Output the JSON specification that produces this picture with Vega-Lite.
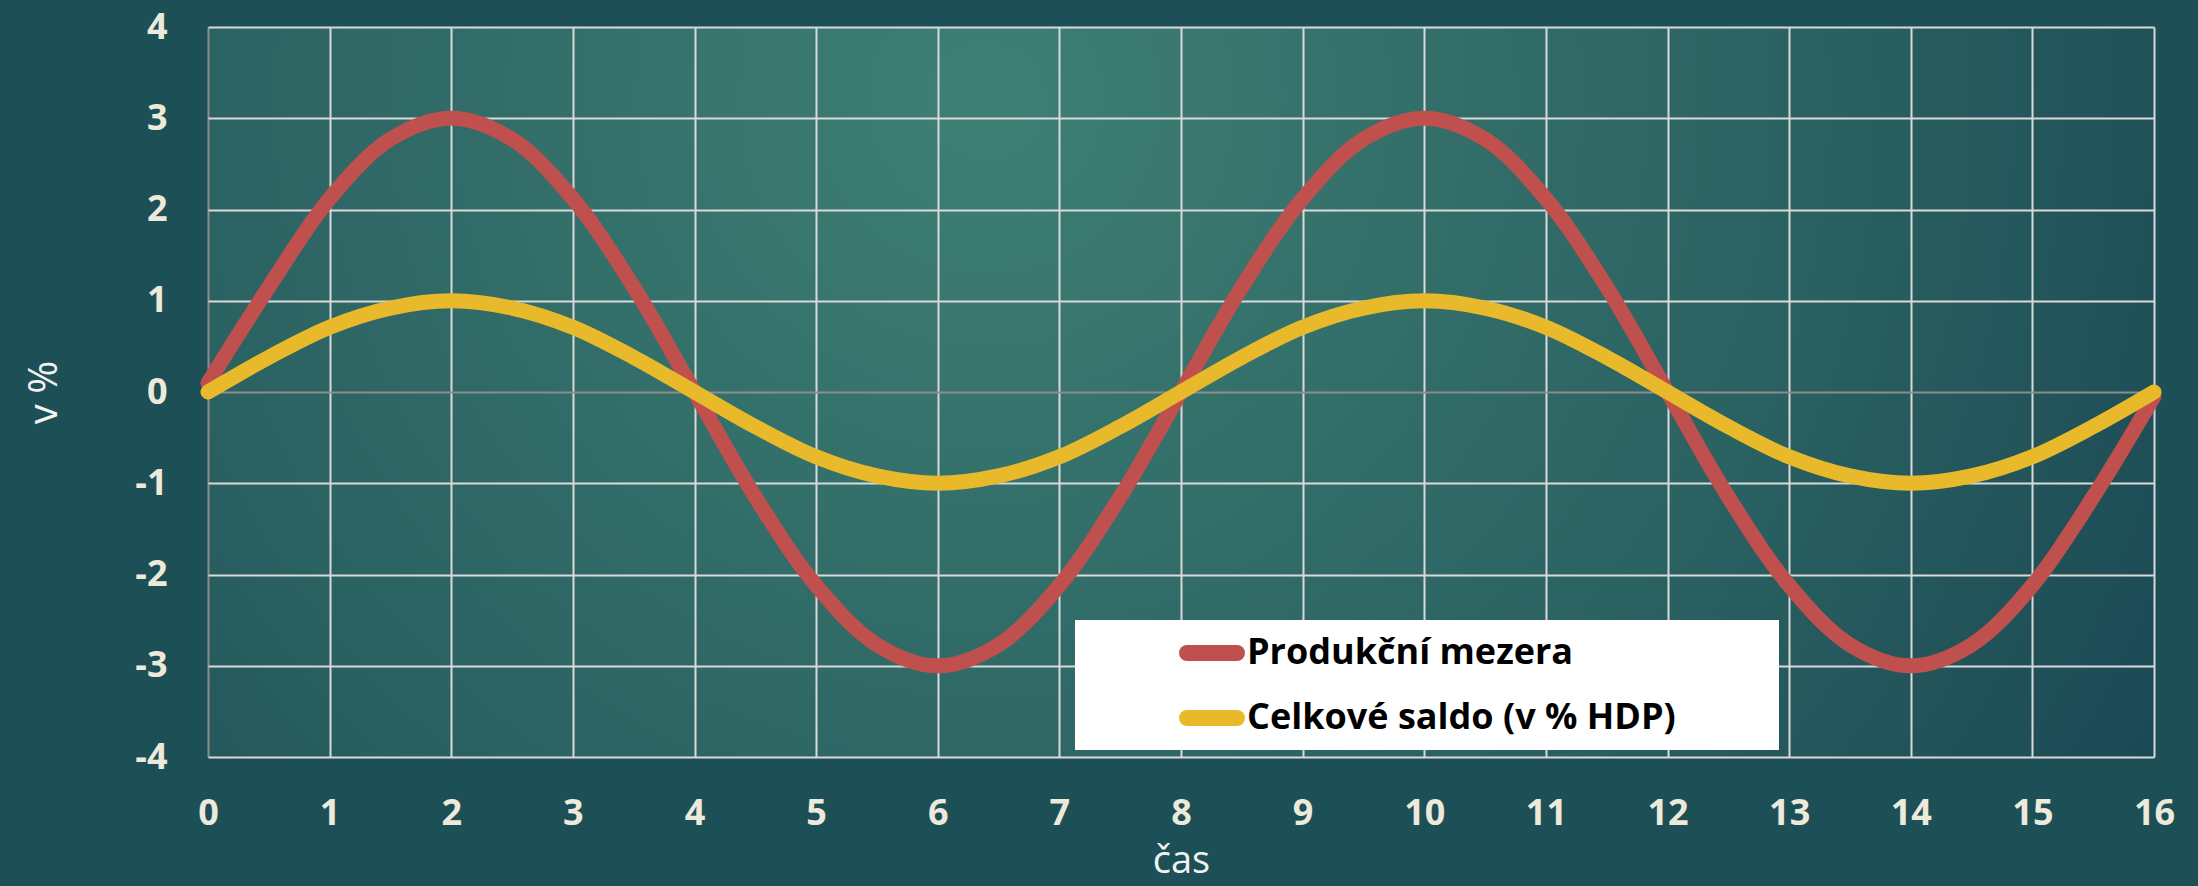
{
  "$schema": "https://vega.github.io/schema/vega-lite/v6.json",
  "width": 1946,
  "height": 730,
  "autosize": {"type": "none"},
  "padding": {"left": 208, "top": 27, "right": 44, "bottom": 129},
  "background": "#1D4F57",
  "config": {
    "view": {
      "stroke": null,
      "fill": {"gradient": "radial", "x1": 0.4, "y1": 0.35, "r1": 0, "x2": 0.4, "y2": 0.35, "r2": 0.75,
        "stops": [{"offset": 0, "color": "#3E7F74"}, {"offset": 0.6, "color": "#295F60"}, {"offset": 1, "color": "#174351"}]}
    },
    "font": "Open Sans"
  },
  "data": {
    "values": [
      {"t": 0, "serie": "Produkční mezera", "v": 0.1},
      {"t": 0.5, "serie": "Produkční mezera", "v": 1.15},
      {"t": 1, "serie": "Produkční mezera", "v": 2.12},
      {"t": 1.5, "serie": "Produkční mezera", "v": 2.77},
      {"t": 2, "serie": "Produkční mezera", "v": 3},
      {"t": 2.5, "serie": "Produkční mezera", "v": 2.77},
      {"t": 3, "serie": "Produkční mezera", "v": 2.12},
      {"t": 3.5, "serie": "Produkční mezera", "v": 1.15},
      {"t": 4, "serie": "Produkční mezera", "v": 0},
      {"t": 4.5, "serie": "Produkční mezera", "v": -1.15},
      {"t": 5, "serie": "Produkční mezera", "v": -2.12},
      {"t": 5.5, "serie": "Produkční mezera", "v": -2.77},
      {"t": 6, "serie": "Produkční mezera", "v": -3},
      {"t": 6.5, "serie": "Produkční mezera", "v": -2.77},
      {"t": 7, "serie": "Produkční mezera", "v": -2.12},
      {"t": 7.5, "serie": "Produkční mezera", "v": -1.15},
      {"t": 8, "serie": "Produkční mezera", "v": 0},
      {"t": 8.5, "serie": "Produkční mezera", "v": 1.15},
      {"t": 9, "serie": "Produkční mezera", "v": 2.12},
      {"t": 9.5, "serie": "Produkční mezera", "v": 2.77},
      {"t": 10, "serie": "Produkční mezera", "v": 3},
      {"t": 10.5, "serie": "Produkční mezera", "v": 2.77},
      {"t": 11, "serie": "Produkční mezera", "v": 2.12},
      {"t": 11.5, "serie": "Produkční mezera", "v": 1.15},
      {"t": 12, "serie": "Produkční mezera", "v": 0},
      {"t": 12.5, "serie": "Produkční mezera", "v": -1.15},
      {"t": 13, "serie": "Produkční mezera", "v": -2.12},
      {"t": 13.5, "serie": "Produkční mezera", "v": -2.77},
      {"t": 14, "serie": "Produkční mezera", "v": -3},
      {"t": 14.5, "serie": "Produkční mezera", "v": -2.77},
      {"t": 15, "serie": "Produkční mezera", "v": -2.12},
      {"t": 15.5, "serie": "Produkční mezera", "v": -1.15},
      {"t": 16, "serie": "Produkční mezera", "v": -0.05},
      {"t": 0, "serie": "Celkové saldo (v % HDP)", "v": 0},
      {"t": 0.5, "serie": "Celkové saldo (v % HDP)", "v": 0.38},
      {"t": 1, "serie": "Celkové saldo (v % HDP)", "v": 0.71},
      {"t": 1.5, "serie": "Celkové saldo (v % HDP)", "v": 0.92},
      {"t": 2, "serie": "Celkové saldo (v % HDP)", "v": 1},
      {"t": 2.5, "serie": "Celkové saldo (v % HDP)", "v": 0.92},
      {"t": 3, "serie": "Celkové saldo (v % HDP)", "v": 0.71},
      {"t": 3.5, "serie": "Celkové saldo (v % HDP)", "v": 0.38},
      {"t": 4, "serie": "Celkové saldo (v % HDP)", "v": 0},
      {"t": 4.5, "serie": "Celkové saldo (v % HDP)", "v": -0.38},
      {"t": 5, "serie": "Celkové saldo (v % HDP)", "v": -0.71},
      {"t": 5.5, "serie": "Celkové saldo (v % HDP)", "v": -0.92},
      {"t": 6, "serie": "Celkové saldo (v % HDP)", "v": -1},
      {"t": 6.5, "serie": "Celkové saldo (v % HDP)", "v": -0.92},
      {"t": 7, "serie": "Celkové saldo (v % HDP)", "v": -0.71},
      {"t": 7.5, "serie": "Celkové saldo (v % HDP)", "v": -0.38},
      {"t": 8, "serie": "Celkové saldo (v % HDP)", "v": 0},
      {"t": 8.5, "serie": "Celkové saldo (v % HDP)", "v": 0.38},
      {"t": 9, "serie": "Celkové saldo (v % HDP)", "v": 0.71},
      {"t": 9.5, "serie": "Celkové saldo (v % HDP)", "v": 0.92},
      {"t": 10, "serie": "Celkové saldo (v % HDP)", "v": 1},
      {"t": 10.5, "serie": "Celkové saldo (v % HDP)", "v": 0.92},
      {"t": 11, "serie": "Celkové saldo (v % HDP)", "v": 0.71},
      {"t": 11.5, "serie": "Celkové saldo (v % HDP)", "v": 0.38},
      {"t": 12, "serie": "Celkové saldo (v % HDP)", "v": 0},
      {"t": 12.5, "serie": "Celkové saldo (v % HDP)", "v": -0.38},
      {"t": 13, "serie": "Celkové saldo (v % HDP)", "v": -0.71},
      {"t": 13.5, "serie": "Celkové saldo (v % HDP)", "v": -0.92},
      {"t": 14, "serie": "Celkové saldo (v % HDP)", "v": -1},
      {"t": 14.5, "serie": "Celkové saldo (v % HDP)", "v": -0.92},
      {"t": 15, "serie": "Celkové saldo (v % HDP)", "v": -0.71},
      {"t": 15.5, "serie": "Celkové saldo (v % HDP)", "v": -0.38},
      {"t": 16, "serie": "Celkové saldo (v % HDP)", "v": 0}
    ]
  },
  "mark": {"type": "line", "interpolate": "catmull-rom", "strokeWidth": 15, "strokeCap": "round", "strokeJoin": "round", "clip": false},
  "encoding": {
    "x": {
      "field": "t", "type": "quantitative",
      "scale": {"domain": [0, 16], "nice": false, "zero": false},
      "axis": {
        "title": "čas", "values": [0,1,2,3,4,5,6,7,8,9,10,11,12,13,14,15,16],
        "labelExpr": "toString(datum.value)", "grid": true,
        "gridColor": {"condition": {"test": "datum.value === 0", "value": "#8C8C8C"}, "value": "#D9D9D9"},
        "gridWidth": 2, "gridOpacity": 1,
        "domain": false, "ticks": false,
        "labelFont": "Open Sans", "labelFontWeight": "bold", "labelFontSize": 36, "labelColor": "#EEEADB",
        "labelPadding": 39, "labelFlush": false,
        "titleFont": "Open Sans", "titleFontWeight": "normal", "titleFontSize": 38, "titleColor": "#F2F2F2",
        "titlePadding": 11
      }
    },
    "y": {
      "field": "v", "type": "quantitative",
      "scale": {"domain": [-4, 4], "nice": false},
      "axis": {
        "title": "v %", "values": [-4,-3,-2,-1,0,1,2,3,4],
        "labelExpr": "toString(datum.value)", "grid": true,
        "gridColor": {"condition": {"test": "datum.value === 0", "value": "#8C8C8C"}, "value": "#D9D9D9"},
        "gridWidth": 2, "gridOpacity": 1,
        "domain": false, "ticks": false,
        "labelFont": "Open Sans", "labelFontWeight": "bold", "labelFontSize": 36, "labelColor": "#EEEADB",
        "labelPadding": 41, "labelFlush": false,
        "titleFont": "Open Sans", "titleFontWeight": "normal", "titleFontSize": 40, "titleColor": "#F2F2F2",
        "titlePadding": 70
      }
    },
    "color": {
      "field": "serie", "type": "nominal",
      "scale": {"domain": ["Produkční mezera", "Celkové saldo (v % HDP)"], "range": ["#C0504D", "#E8B92B"]},
      "legend": {
        "title": "\u200b", "titleOrient": "right", "titlePadding": 103, "titleFontSize": 1, "titleColor": "#FFFFFF",
        "orient": "none", "legendX": 867, "legendY": 593,
        "fillColor": "#FFFFFF", "padding": 0,
        "symbolType": "stroke", "symbolStrokeWidth": 16, "symbolSize": 2500, "symbolOffset": 104,
        "labelFont": "Open Sans", "labelFontWeight": "bold", "labelFontSize": 36, "labelColor": "#000000",
        "labelOffset": 2, "rowPadding": 0, "labelLimit": 900,
        "encode": {"symbols": {"update": {"strokeCap": {"value": "round"}}}}
      }
    }
  }
}
